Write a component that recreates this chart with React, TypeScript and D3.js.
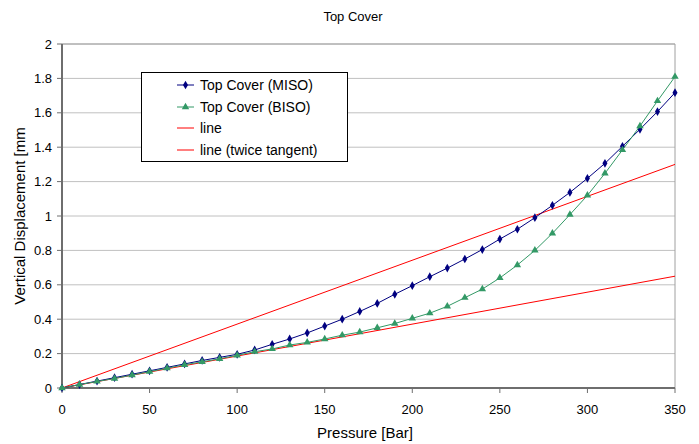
import React from "react";
import * as d3 from "d3";

// Pressure steps [Bar]
const pressure = [0, 10, 20, 30, 40, 50, 60, 70, 80, 90, 100, 110, 120, 130, 140, 150, 160, 170, 180, 190, 200, 210, 220, 230, 240, 250, 260, 270, 280, 290, 300, 310, 320, 330, 340, 350];
// Vertical displacement [mm]
const miso = [0, 0.02, 0.04, 0.06, 0.08, 0.1, 0.12, 0.14, 0.16, 0.178, 0.196, 0.221, 0.254, 0.285, 0.32, 0.36, 0.4, 0.445, 0.492, 0.545, 0.595, 0.647, 0.697, 0.75, 0.805, 0.866, 0.923, 0.99, 1.062, 1.137, 1.219, 1.306, 1.405, 1.504, 1.607, 1.717];
const biso = [0, 0.02, 0.038, 0.055, 0.075, 0.095, 0.115, 0.135, 0.152, 0.17, 0.19, 0.211, 0.227, 0.25, 0.265, 0.285, 0.307, 0.325, 0.35, 0.375, 0.405, 0.435, 0.475, 0.525, 0.575, 0.64, 0.715, 0.8, 0.899, 1.008, 1.12, 1.248, 1.384, 1.523, 1.669, 1.81];
// Reference lines through the origin
const lineP = [0, 350];
const lineSteep = [0, 1.3];
const lineTangent = [0, 0.65];

const xTicks = [0, 50, 100, 150, 200, 250, 300, 350];
const yTicks = [0, 0.2, 0.4, 0.6, 0.8, 1, 1.2, 1.4, 1.6, 1.8, 2];

const W = 699;
const H = 444;
const left = 62;
const right = 675;
const top = 44;
const bottom = 388;

const font = "'Liberation Sans', Arial, sans-serif";

export default function App() {
  const x = d3.scaleLinear().domain([0, 350]).range([left, right]);
  const y = d3.scaleLinear().domain([0, 2]).range([bottom, top]);

  const line = d3
    .line<[number, number]>()
    .x((d) => x(d[0]))
    .y((d) => y(d[1]));

  const misoPts = pressure.map((p, i) => [p, miso[i]] as [number, number]);
  const bisoPts = pressure.map((p, i) => [p, biso[i]] as [number, number]);
  const steepPts = lineP.map((p, i) => [p, lineSteep[i]] as [number, number]);
  const tangentPts = lineP.map((p, i) => [p, lineTangent[i]] as [number, number]);

  const diamond = d3.symbol(d3.symbolDiamond, 22)();
  const triangle = d3.symbol(d3.symbolTriangle, 24)();

  const navy = "#000080";
  const green = "#339966";
  const red = "#ff0000";

  const legendItems = [
    { label: "Top Cover (MISO)", color: navy, marker: diamond },
    { label: "Top Cover (BISO)", color: green, marker: triangle },
    { label: "line", color: red, marker: null },
    { label: "line (twice tangent)", color: red, marker: null },
  ];
  const legendRows = [85, 107, 128, 150];

  return (
    <svg
      width={W}
      height={H}
      style={{ position: "absolute", left: 0, top: 0, background: "#fff" }}
      fontFamily={font}
    >
      <rect x={0} y={0} width={W} height={H} fill="#fff" />
      <text x={353} y={21} textAnchor="middle" fontSize={13} fill="#000">
        Top Cover
      </text>

      {/* gridlines */}
      {yTicks.map((t) => (
        <line key={"g" + t} x1={left} x2={right} y1={y(t)} y2={y(t)} stroke="#c0c0c0" strokeWidth={1} />
      ))}
      <line x1={right} x2={right} y1={top} y2={bottom} stroke="#a0a0a0" strokeWidth={1} />
      <line x1={left} x2={right} y1={top} y2={top} stroke="#a0a0a0" strokeWidth={1} />

      {/* axes */}
      <line x1={left} x2={left} y1={top} y2={bottom} stroke="#6e6e6e" strokeWidth={2} />
      <line x1={left} x2={right} y1={bottom} y2={bottom} stroke="#6e6e6e" strokeWidth={2} />
      {yTicks.map((t) => (
        <g key={"yt" + t}>
          <line x1={left - 5} x2={left} y1={y(t)} y2={y(t)} stroke="#6e6e6e" strokeWidth={1} />
          <text x={52} y={y(t)} dy="0.35em" textAnchor="end" fontSize={13} fill="#000">
            {t}
          </text>
        </g>
      ))}
      {xTicks.map((t) => (
        <g key={"xt" + t}>
          <line x1={x(t)} x2={x(t)} y1={bottom} y2={bottom + 5} stroke="#6e6e6e" strokeWidth={1} />
          <text x={x(t)} y={414} textAnchor="middle" fontSize={13} fill="#000">
            {t}
          </text>
        </g>
      ))}
      <text x={365} y={438} textAnchor="middle" fontSize={15} fill="#000">
        Pressure [Bar]
      </text>
      <text
        transform={`translate(25,${(top + bottom) / 2}) rotate(-90)`}
        textAnchor="middle"
        fontSize={15}
        fill="#000"
      >
        Vertical Displacement [mm
      </text>

      {/* reference lines */}
      <path d={line(steepPts) || ""} fill="none" stroke={red} strokeWidth={1} />
      <path d={line(tangentPts) || ""} fill="none" stroke={red} strokeWidth={1} />

      {/* series */}
      <path d={line(misoPts) || ""} fill="none" stroke={navy} strokeWidth={1} />
      {misoPts.map((d, i) => (
        <path key={"m" + i} d={diamond || ""} transform={`translate(${x(d[0])},${y(d[1])})`} fill={navy} />
      ))}
      <path d={line(bisoPts) || ""} fill="none" stroke={green} strokeWidth={1} />
      {bisoPts.map((d, i) => (
        <path key={"b" + i} d={triangle || ""} transform={`translate(${x(d[0])},${y(d[1])})`} fill={green} />
      ))}

      {/* legend */}
      <rect x={141.5} y={72.5} width={206} height={89} fill="#fff" stroke="#000" strokeWidth={1} />
      {legendItems.map((it, i) => (
        <g key={"l" + i}>
          <line x1={177} x2={194} y1={legendRows[i]} y2={legendRows[i]} stroke={it.color} strokeWidth={1} />
          {it.marker && (
            <path d={it.marker || ""} transform={`translate(185.5,${legendRows[i]})`} fill={it.color} />
          )}
          <text x={200} y={legendRows[i]} dy="0.35em" fontSize={14} fill="#000">
            {it.label}
          </text>
        </g>
      ))}
    </svg>
  );
}
